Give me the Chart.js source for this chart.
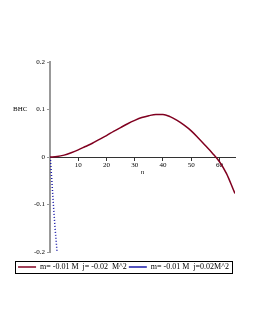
<!DOCTYPE html>
<html>
<head>
<meta charset="utf-8">
<script src="https://cdn.jsdelivr.net/npm/chart.js@4"></script>
<style>
  html, body { margin: 0; padding: 0; background: #fff; }
  #wrap { width: 255px; height: 330px; }
</style>
</head>
<body>
<div id="wrap"><canvas id="bhcChart"></canvas></div>
<script>
// valores
const nVermelho = [0, 2.5, 5, 7.5, 10, 12.5, 15, 17.5, 20, 22.5, 25, 27.5, 30, 32.5, 35, 37.5, 40, 42.5, 45, 47.5, 50, 52.5, 55, 57.5, 60, 62.5, 65, 65.5];
const bhcVermelho = [0, 0.001, 0.004, 0.009, 0.015, 0.022, 0.029, 0.037, 0.045, 0.054, 0.062, 0.07, 0.077, 0.083, 0.087, 0.0895, 0.0895, 0.085, 0.077, 0.067, 0.055, 0.04, 0.024, 0.008, -0.01, -0.035, -0.07, -0.077];

const nAzul = [0.1, 0.6, 1.2, 1.8, 2.5];
const bhcAzul = [0, -0.045, -0.1, -0.15, -0.2];

const yTicks = [-0.2, -0.1, 0, 0.1, 0.2];
const xTicks = [10, 20, 30, 40, 50, 60];

const legendas = ['m= -0.01 M  j= -0.02  M^2', 'm= -0.01 M  j=0.02M^2'];

const fonte = { family: 'Liberation Serif', size: 7 };

const caixaLegenda = {
    id: 'caixaLegenda',
    afterDraw(chart) {
        const boxes = chart.legend.legendHitBoxes;
        if (!boxes || !boxes.length) return;
        const ctx = chart.ctx;
        let l = Infinity, r = -Infinity, t = Infinity, b = -Infinity;
        boxes.forEach(h => {
            l = Math.min(l, h.left); r = Math.max(r, h.left + h.width);
            t = Math.min(t, h.top); b = Math.max(b, h.top + h.height);
        });
        ctx.save();
        ctx.strokeStyle = '#000';
        ctx.lineWidth = 1;
        ctx.strokeRect(Math.round(l - 3) + 0.5, Math.round(t - 2) + 0.5, Math.round(r - l + 6), Math.round(b - t + 4));
        ctx.restore();
    }
};

const tituloBHC = {
    id: 'tituloBHC',
    afterDraw(chart) {
        const ctx = chart.ctx;
        const y = chart.scales.y.getPixelForValue(0.1);
        ctx.save();
        ctx.font = '7px "Liberation Serif"';
        ctx.fillStyle = '#000';
        ctx.textBaseline = 'middle';
        ctx.fillText('BHC', 13, y);
        ctx.restore();
    }
};

const ctx = document.getElementById('bhcChart').getContext('2d');
const bhcChart = new Chart(ctx, {
    type: 'line',
    data: {
        datasets: [
            {
                label: legendas[0],
                data: nVermelho.map((n, i) => ({ x: n, y: bhcVermelho[i] })),
                borderColor: '#800020',
                backgroundColor: '#800020',
                borderWidth: 1.5,
                pointRadius: 0,
                fill: false,
                cubicInterpolationMode: 'monotone'
            },
            {
                label: legendas[1],
                data: nAzul.map((n, i) => ({ x: n, y: bhcAzul[i] })),
                borderColor: '#1a1aa8',
                backgroundColor: '#1a1aa8',
                borderWidth: 1.5,
                borderDash: [1, 2],
                pointRadius: 0,
                fill: false,
                tension: 0
            }
        ]
    },
    options: {
        responsive: true,
        maintainAspectRatio: false,
        animation: false,
        layout: {
            padding: { left: 12, right: 20, top: 62, bottom: 49 }
        },
        plugins: {
            legend: {
                display: true,
                position: 'bottom',
                title: { display: true, text: '', font: { size: 5 }, padding: { top: 3, bottom: 0 } },
                labels: {
                    usePointStyle: true,
                    pointStyle: 'line',
                    pointStyleWidth: 18,
                    boxHeight: 8,
                    padding: 2,
                    color: '#000',
                    font: { family: 'Liberation Serif', size: 8 }
                }
            },
            tooltip: { enabled: false }
        },
        scales: {
            x: {
                type: 'linear',
                position: { y: 0 },
                min: 0,
                max: 65.5,
                afterBuildTicks: s => { s.ticks = xTicks.map(v => ({ value: v })); },
                grid: { display: true, drawOnChartArea: false, drawTicks: true, tickLength: 3, color: '#333' },
                border: { color: '#333', width: 1 },
                ticks: { color: '#000', font: fonte, padding: 1, maxRotation: 0 },
                title: { display: true, text: 'n', color: '#000', font: { family: 'Liberation Serif', size: 7, style: 'italic' }, padding: { top: -2, bottom: 0 } }
            },
            y: {
                type: 'linear',
                position: 'left',
                min: -0.2,
                max: 0.2,
                afterFit: s => { s.width = 38; },
                afterBuildTicks: s => { s.ticks = yTicks.map(v => ({ value: v })); },
                grid: { display: true, drawOnChartArea: false, drawTicks: true, tickLength: 3, color: '#999' },
                border: { color: '#999', width: 2 },
                ticks: {
                    color: '#000',
                    font: fonte,
                    padding: 2,
                    callback: v => v === 0 ? '0' : v.toFixed(1)
                }
            }
        }
    },
    plugins: [caixaLegenda, tituloBHC]
});
</script>
</body>
</html>
